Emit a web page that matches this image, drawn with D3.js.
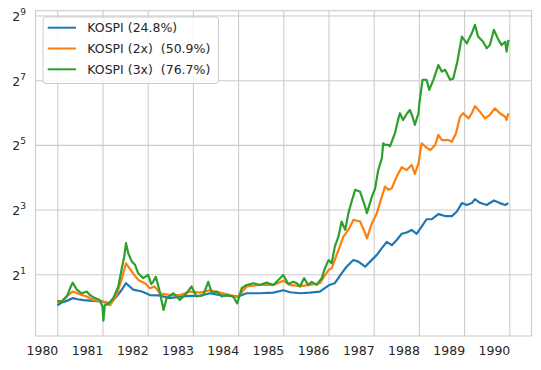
<!DOCTYPE html>
<html>
<head>
<meta charset="utf-8">
<script src="https://cdn.jsdelivr.net/npm/d3@7"></script>
<style>
  body { margin: 0; background: #fff; }
  text { font-family: "DejaVu Sans", sans-serif; fill: #262626; }
</style>
</head>
<body>
<svg id="chart" width="541" height="370"></svg>
<script>
// [year, growth multiple]
var kospi = [[1980.00,1.03],[1980.10,1.09],[1980.21,1.13],[1980.35,1.20],[1980.45,1.17],[1980.58,1.15],[1980.80,1.13],
  [1981.02,1.11],[1981.17,1.07],[1981.31,1.24],[1981.42,1.42],[1981.52,1.65],[1981.68,1.44],[1981.87,1.38],
  [1982.05,1.28],[1982.25,1.27],[1982.49,1.20],[1982.71,1.24],[1982.94,1.26],[1983.16,1.26],[1983.38,1.33],
  [1983.60,1.28],[1983.82,1.26],[1984.00,1.24],[1984.19,1.33],[1984.48,1.33],[1984.78,1.35],[1985.00,1.42],
  [1985.15,1.36],[1985.37,1.33],[1985.59,1.35],[1985.81,1.38],[1986.02,1.59],[1986.14,1.65],[1986.29,2.04],
  [1986.40,2.35],[1986.55,2.71],[1986.66,2.62],[1986.81,2.35],[1986.92,2.62],[1987.07,3.03],[1987.18,3.50],
  [1987.29,4.00],[1987.40,3.73],[1987.51,4.17],[1987.62,4.76],[1987.73,4.89],[1987.84,5.17],[1987.95,4.76],
  [1988.06,5.54],[1988.17,6.50],[1988.28,6.50],[1988.43,7.26],[1988.58,6.96],[1988.73,6.96],[1988.84,7.67],
  [1988.95,9.19],[1989.06,8.82],[1989.17,9.19],[1989.24,9.99],[1989.35,9.25],[1989.50,8.82],[1989.66,9.71],
  [1989.79,9.19],[1989.91,8.82],[1989.98,9.19]];

var kospi2x = [[1980.00,1.09],[1980.10,1.13],[1980.20,1.24],[1980.34,1.38],[1980.50,1.30],[1980.65,1.24],[1980.80,1.15],
  [1981.02,1.11],[1981.17,1.03],[1981.31,1.28],[1981.42,1.77],[1981.52,2.53],[1981.65,2.11],[1981.79,1.77],
  [1981.94,1.65],[1982.05,1.48],[1982.15,1.54],[1982.27,1.33],[1982.49,1.28],[1982.71,1.28],[1982.94,1.38],
  [1983.16,1.35],[1983.38,1.42],[1983.60,1.35],[1983.82,1.28],[1984.00,1.24],[1984.19,1.54],[1984.48,1.59],
  [1984.78,1.59],[1985.00,1.74],[1985.15,1.59],[1985.37,1.55],[1985.59,1.59],[1985.81,1.65],[1986.00,2.19],
  [1986.07,2.27],[1986.22,3.36],[1986.33,4.47],[1986.44,5.17],[1986.55,6.41],[1986.70,6.19],[1986.81,4.82],
  [1986.85,4.32],[1986.96,5.98],[1987.07,7.41],[1987.18,10.56],[1987.25,13.09],[1987.32,12.21],[1987.40,12.64],
  [1987.51,16.22],[1987.62,19.84],[1987.73,18.64],[1987.84,20.82],[1987.91,17.15],[1987.99,21.56],[1988.06,33.1],
  [1988.14,30.9],[1988.25,28.6],[1988.36,32.0],[1988.43,39.7],[1988.51,35.5],[1988.65,35.5],[1988.73,34.3],
  [1988.82,41.1],[1988.91,58.5],[1988.98,63.1],[1989.10,56.5],[1989.17,63.1],[1989.24,73.5],[1989.35,65.3],
  [1989.46,56.5],[1989.57,61.0],[1989.68,70.0],[1989.79,63.1],[1989.91,58.5],[1989.94,54.6],[1989.98,63.1]];

var kospi3x = [[1980.00,1.13],[1980.10,1.11],[1980.21,1.24],[1980.30,1.54],[1980.34,1.67],[1980.43,1.44],[1980.54,1.33],
  [1980.65,1.38],[1980.72,1.28],[1980.83,1.20],[1980.94,1.15],[1981.00,1.00],[1981.02,0.74],[1981.05,1.03],
  [1981.13,1.06],[1981.24,1.20],[1981.35,1.54],[1981.42,2.19],[1981.48,2.91],[1981.52,3.89],[1981.57,3.14],
  [1981.65,2.62],[1981.72,2.45],[1981.79,2.04],[1981.90,1.84],[1982.01,1.97],[1982.08,1.62],[1982.12,1.70],
  [1982.18,1.89],[1982.26,1.42],[1982.35,0.93],[1982.42,1.20],[1982.57,1.33],[1982.71,1.15],[1982.86,1.33],
  [1982.97,1.54],[1983.08,1.24],[1983.23,1.28],[1983.34,1.70],[1983.42,1.33],[1983.53,1.38],[1983.64,1.24],
  [1983.75,1.28],[1983.89,1.24],[1983.98,1.07],[1984.08,1.48],[1984.19,1.59],[1984.34,1.65],[1984.48,1.59],
  [1984.63,1.67],[1984.78,1.59],[1984.89,1.77],[1985.00,1.97],[1985.11,1.62],[1985.22,1.70],[1985.30,1.65],
  [1985.37,1.54],[1985.46,1.84],[1985.55,1.59],[1985.63,1.70],[1985.74,1.59],[1985.85,1.84],[1985.92,2.27],
  [1986.00,2.71],[1986.07,2.53],[1986.14,3.61],[1986.22,4.47],[1986.29,6.19],[1986.37,5.17],[1986.44,7.41],
  [1986.51,9.45],[1986.59,12.21],[1986.70,11.71],[1986.81,8.51],[1986.85,7.41],[1986.96,10.56],[1987.03,12.5],
  [1987.10,18.64],[1987.18,24.0],[1987.21,33.0],[1987.25,32.0],[1987.32,32.0],[1987.36,31.0],[1987.40,34.3],
  [1987.47,41.1],[1987.54,55.0],[1987.58,63.1],[1987.65,54.6],[1987.74,63.1],[1987.80,67.6],[1987.86,58.5],
  [1987.91,49.2],[1987.99,63.0],[1988.01,77.7],[1988.08,129],[1988.17,129],[1988.23,104],[1988.32,129],
  [1988.43,177],[1988.51,154],[1988.58,160],[1988.69,129],[1988.76,133],[1988.85,190],[1988.95,326],
  [1989.06,282],[1989.17,350],[1989.24,419],[1989.31,326],[1989.42,292],[1989.50,254],[1989.57,272],
  [1989.66,377],[1989.76,304],[1989.83,272],[1989.91,292],[1989.94,236],[1989.98,304]];

var seriesNames = ["KOSPI (24.8%)", "KOSPI (2x)  (50.9%)", "KOSPI (3x)  (76.7%)"];
var seriesColors = ["#1f77b4", "#ff7f0e", "#2ca02c"];
var yearTicks = [1980, 1981, 1982, 1983, 1984, 1985, 1986, 1987, 1988, 1989, 1990];
var powerTicks = [1, 3, 5, 7, 9];

var margin = {top: 10.7, right: 9.5, bottom: 34, left: 35.5},
  width = 541 - margin.left - margin.right,
  height = 370 - margin.top - margin.bottom;

var svg = d3.select("#chart");
var g = svg.append("g")
  .attr("transform", "translate(" + margin.left + "," + margin.top + ")");

var x = d3.scaleLinear().domain([1979.518, 1990.491]).range([0, width]);
var y = d3.scaleLog().base(2).domain([Math.pow(2, -0.91), Math.pow(2, 9.15)]).range([height, 0]);

// grid + tick labels
var xAxis = g.append("g")
  .attr("class", "xAxis")
  .attr("transform", "translate(0," + height + ")")
  .call(d3.axisBottom(x).tickValues(yearTicks).tickFormat(d3.format("d")).tickSize(-height).tickSizeOuter(0));

xAxis.select(".domain").remove();
xAxis.selectAll(".tick line").attr("stroke", "#cccccc").attr("stroke-width", 1.1);
xAxis.selectAll(".tick text")
  .attr("text-anchor", "end")
  .attr("x", 0.5)
  .attr("y", 19)
  .attr("dy", null)
  .style("font-size", "12.5px");

var yAxis = g.append("g")
  .attr("class", "yAxis")
  .call(d3.axisLeft(y).tickValues(powerTicks.map(function(p) { return Math.pow(2, p); }))
    .tickFormat("").tickSize(-width).tickSizeOuter(0));

yAxis.select(".domain").remove();
yAxis.selectAll(".tick line").attr("stroke", "#cccccc").attr("stroke-width", 1.1);
yAxis.selectAll(".tick text").remove();
yAxis.selectAll(".tick").each(function(d) {
  var t = d3.select(this).append("text")
    .attr("x", -9.5)
    .attr("y", 5)
    .attr("text-anchor", "end")
    .style("font-size", "12.5px");
  t.append("tspan").text("2");
  t.append("tspan").attr("dy", -6).style("font-size", "9px").text(Math.round(Math.log2(d)));
});

// frame
g.append("rect")
  .attr("width", width)
  .attr("height", height)
  .attr("fill", "none")
  .attr("stroke", "#cccccc")
  .attr("stroke-width", 1.1);

var valueline = d3.line()
  .x(function(d) { return x(d[0]); })
  .y(function(d) { return y(d[1]); });

[kospi, kospi2x, kospi3x].forEach(function(s, i) {
  g.append("path")
    .datum(s)
    .attr("class", "line")
    .attr("fill", "none")
    .attr("stroke", seriesColors[i])
    .attr("stroke-width", 2.2)
    .attr("stroke-linejoin", "round")
    .attr("d", valueline);
});

// legend
var legend = svg.append("g").attr("transform", "translate(43,17)");
legend.append("rect")
  .attr("width", 175.5)
  .attr("height", 66.5)
  .attr("rx", 3)
  .attr("fill", "#fff")
  .attr("fill-opacity", 0.8)
  .attr("stroke", "#cccccc")
  .attr("stroke-width", 1);

seriesNames.forEach(function(name, i) {
  var row = legend.append("g").attr("transform", "translate(0," + (10.7 + i * 20.8) + ")");
  row.append("line")
    .attr("x1", 4.7).attr("x2", 33)
    .attr("stroke", seriesColors[i])
    .attr("stroke-width", 2);
  row.append("text")
    .attr("x", 44.3)
    .attr("y", 4.5)
    .attr("xml:space", "preserve")
    .style("white-space", "pre")
    .style("font-size", "12.5px")
    .text(name);
});
</script>
</body>
</html>
